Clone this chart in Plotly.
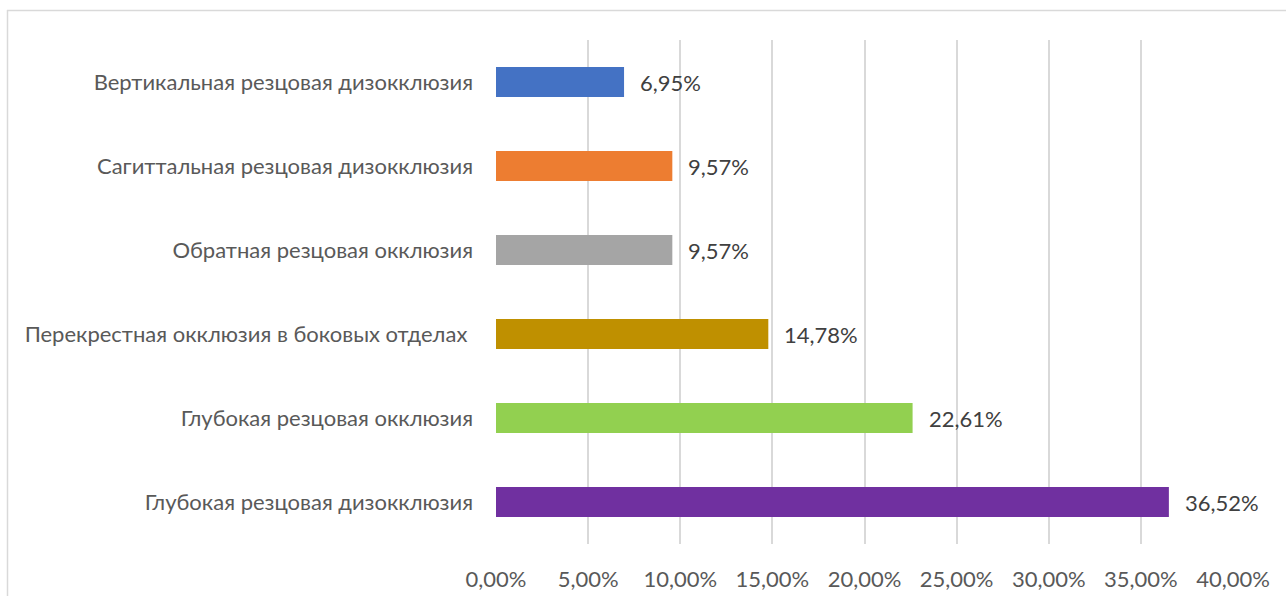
import plotly.graph_objects as go

categories = [
    "Глубокая резцовая дизокклюзия",
    "Глубокая резцовая окклюзия",
    "Перекрестная окклюзия в боковых отделах ",
    "Обратная резцовая окклюзия",
    "Сагиттальная резцовая дизокклюзия",
    "Вертикальная резцовая дизокклюзия",
]
values = [0.3652, 0.2261, 0.1478, 0.0957, 0.0957, 0.0695]
colors = ["#7030A0", "#92D050", "#BF9000", "#A5A5A5", "#ED7D31", "#4472C4"]
tick_values = [0, 0.05, 0.10, 0.15, 0.20, 0.25, 0.30, 0.35, 0.40]

FONT = "Lato"
FS = 22
TXT = "#595959"

fig = go.Figure(go.Bar(
    x=values, y=categories, orientation="h",
    marker=dict(color=colors, line=dict(width=0)),
    width=0.36, hoverinfo="skip",
))

for v, c in zip(values, categories):
    fig.add_annotation(x=v, y=c, text=f"{v*100:.2f}%".replace(".", ","),
                       xanchor="left", xshift=14, showarrow=False,
                       font=dict(family=FONT, size=FS, color="#404040"))

W, H = 1286, 596
L, R, T, B = 496, 53, 40, 52
pw, ph = W - L - R, H - T - B
def px(x):
    return (x - L) / pw
def py(y):
    return (H - B - y) / ph

fig.add_shape(type="line", xref="paper", yref="paper",
              x0=px(7), x1=px(1300), y0=py(10.5), y1=py(10.5),
              line=dict(color="#D9D9D9", width=1.5))
fig.add_shape(type="line", xref="paper", yref="paper",
              x0=px(7.5), x1=px(7.5), y0=py(10), y1=py(610),
              line=dict(color="#D9D9D9", width=1.5))

fig.update_layout(
    width=W, height=H,
    margin=dict(l=L, r=R, t=T, b=B),
    paper_bgcolor="white", plot_bgcolor="white",
    separators=", ",
    showlegend=False,
    font=dict(family=FONT, size=FS, color=TXT),
    xaxis=dict(range=[0, 0.40], tickvals=tick_values, tickformat=".2%",
               showgrid=True, gridcolor="#D9D9D9", gridwidth=1.5,
               zeroline=False, showline=False, ticks="",
               ticklabelstandoff=20, automargin=False,
               tickfont=dict(family=FONT, size=FS, color=TXT)),
    yaxis=dict(showgrid=False, zeroline=False, showline=False, ticks="",
               ticklabelstandoff=22, automargin=False,
               range=[-0.5, 5.5],
               tickfont=dict(family=FONT, size=FS, color=TXT)),
)

fig.write_html("out.html")
